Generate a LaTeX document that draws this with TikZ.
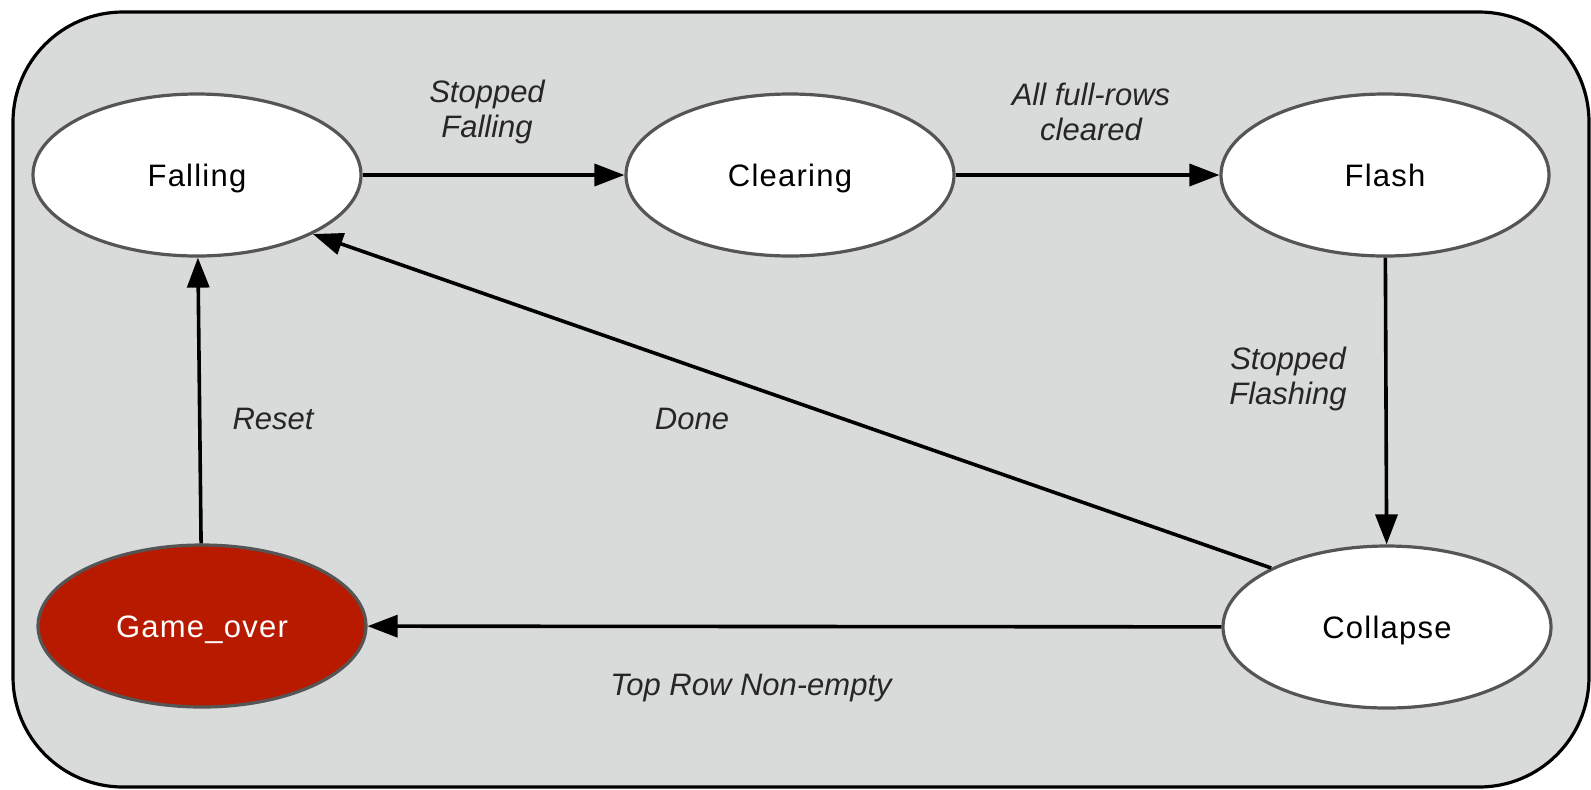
\documentclass[tikz,border=0pt]{standalone}
\usepackage{fontspec}
\setmainfont{Liberation Sans}
\usetikzlibrary{shapes.geometric,arrows.meta}
\definecolor{bg}{HTML}{D9DBDB}
\definecolor{rim}{HTML}{555555}
\definecolor{goRed}{HTML}{B81A00}
\begin{document}
\begin{tikzpicture}[x=0.5pt,y=-0.5pt,
  state/.style={ellipse,draw=rim,line width=1.6pt,fill=white,inner sep=0pt,
    minimum width=164pt,minimum height=81pt,text height=13pt,text depth=2pt,
    font=\fontsize{15.5}{18}\selectfont\addfontfeature{LetterSpace=4}},
  trans/.style={draw=black,line width=1.8pt,-{Triangle[length=15pt,width=11pt]}},
  lbl/.style={font=\fontsize{15.5}{17.3}\selectfont\itshape,text=black!85,align=center,inner sep=0pt}]
\useasboundingbox (0,0) rectangle (1591,789);
\draw[fill=bg,line width=1.6pt,rounded corners=55pt] (13,12) rectangle (1589,787);
\node[state] (Falling) at (197,175) {Falling};
\node[state] (Clearing) at (790,175) {Clearing};
\node[state] (Flash) at (1385,175) {Flash};
\node[state,fill=goRed,text=white] (Game_over) at (202,626) {Game\_over};
\node[state] (Collapse) at (1387,627) {Collapse};
\draw[trans] (Falling) -- (Clearing);
\draw[trans] (Clearing) -- (Flash);
\draw[trans] (Flash) -- (Collapse);
\draw[trans] (Collapse) -- (Game_over);
\draw[trans] (Game_over) -- (Falling);
\draw[trans] (Collapse.153) -- (Falling.-27);
\node[lbl] (l1) at (487,112) {Stopped\\Falling};
\node[lbl] (l2) at (1091,112) {All full-rows\\cleared};
\node[lbl] (l3) at (1288,379) {Stopped\\Flashing};
\node[lbl] (l4) at (692,419) {Done};
\node[lbl] (l5) at (273,419) {Reset};
\node[lbl] (l6) at (751,688) {Top Row Non-empty};
\end{tikzpicture}
\end{document}
